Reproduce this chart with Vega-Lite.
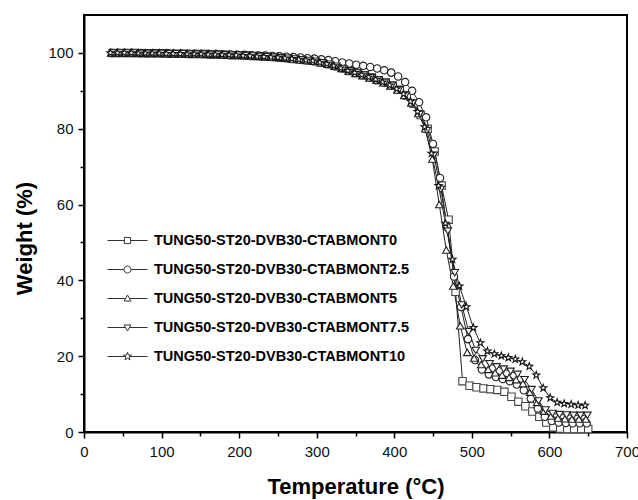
{
  "$schema": "https://vega.github.io/schema/vega-lite/v6.json",
  "width": 543,
  "height": 417,
  "autosize": {"type": "none"},
  "padding": {"left": 84, "top": 15, "right": 11, "bottom": 68},
  "background": "white",
  "config": {
    "view": {"stroke": "#000", "strokeWidth": 2},
    "font": "Liberation Sans",
    "axis": {"grid": false}
  },
  "data": {
    "values": [
      {"s":"0","t":38,"w":100.0},{"s":"0","t":47,"w":100.0},{"s":"0","t":56,"w":100.0},{"s":"0","t":65,"w":100.0},{"s":"0","t":74,"w":99.9},{"s":"0","t":83,"w":99.9},{"s":"0","t":92,"w":99.9},{"s":"0","t":101,"w":99.9},{"s":"0","t":110,"w":99.8},{"s":"0","t":119,"w":99.8},{"s":"0","t":128,"w":99.8},{"s":"0","t":137,"w":99.7},{"s":"0","t":146,"w":99.7},{"s":"0","t":155,"w":99.7},{"s":"0","t":164,"w":99.6},{"s":"0","t":173,"w":99.6},{"s":"0","t":182,"w":99.5},{"s":"0","t":191,"w":99.4},{"s":"0","t":200,"w":99.4},{"s":"0","t":209,"w":99.3},{"s":"0","t":218,"w":99.2},{"s":"0","t":227,"w":99.1},{"s":"0","t":236,"w":99.0},{"s":"0","t":245,"w":98.9},{"s":"0","t":254,"w":98.7},{"s":"0","t":263,"w":98.6},{"s":"0","t":272,"w":98.4},{"s":"0","t":281,"w":98.2},{"s":"0","t":290,"w":98.0},{"s":"0","t":299,"w":97.8},{"s":"0","t":308,"w":97.4},{"s":"0","t":317,"w":97.0},{"s":"0","t":326,"w":96.5},{"s":"0","t":335,"w":95.9},{"s":"0","t":344,"w":95.2},{"s":"0","t":353,"w":94.7},{"s":"0","t":362,"w":94.1},{"s":"0","t":371,"w":93.5},{"s":"0","t":380,"w":92.8},{"s":"0","t":389,"w":92.2},{"s":"0","t":398,"w":91.4},{"s":"0","t":407,"w":90.3},{"s":"0","t":416,"w":88.8},{"s":"0","t":425,"w":86.6},{"s":"0","t":434,"w":83.6},{"s":"0","t":443,"w":80.0},{"s":"0","t":452,"w":74.0},{"s":"0","t":461,"w":65.0},{"s":"0","t":470,"w":56.0},{"s":"0","t":479,"w":37.0},{"s":"0","t":488,"w":13.4},{"s":"0","t":497,"w":12.2},{"s":"0","t":506,"w":11.8},{"s":"0","t":515,"w":11.5},{"s":"0","t":524,"w":11.3},{"s":"0","t":533,"w":11.1},{"s":"0","t":542,"w":10.6},{"s":"0","t":551,"w":9.3},{"s":"0","t":560,"w":8.0},{"s":"0","t":569,"w":6.8},{"s":"0","t":578,"w":5.4},{"s":"0","t":587,"w":4.0},{"s":"0","t":596,"w":2.5},{"s":"0","t":605,"w":1.2},{"s":"0","t":614,"w":0.9},{"s":"0","t":623,"w":0.8},{"s":"0","t":632,"w":0.8},{"s":"0","t":641,"w":0.8},{"s":"0","t":650,"w":0.8},

      {"s":"2.5","t":36,"w":100.0},{"s":"2.5","t":45,"w":100.0},{"s":"2.5","t":54,"w":100.0},{"s":"2.5","t":63,"w":100.0},{"s":"2.5","t":72,"w":100.0},{"s":"2.5","t":81,"w":99.9},{"s":"2.5","t":90,"w":99.9},{"s":"2.5","t":99,"w":99.9},{"s":"2.5","t":108,"w":99.9},{"s":"2.5","t":117,"w":99.8},{"s":"2.5","t":126,"w":99.8},{"s":"2.5","t":135,"w":99.8},{"s":"2.5","t":144,"w":99.8},{"s":"2.5","t":153,"w":99.7},{"s":"2.5","t":162,"w":99.7},{"s":"2.5","t":171,"w":99.7},{"s":"2.5","t":180,"w":99.6},{"s":"2.5","t":189,"w":99.6},{"s":"2.5","t":198,"w":99.5},{"s":"2.5","t":207,"w":99.5},{"s":"2.5","t":216,"w":99.4},{"s":"2.5","t":225,"w":99.3},{"s":"2.5","t":234,"w":99.3},{"s":"2.5","t":243,"w":99.2},{"s":"2.5","t":252,"w":99.1},{"s":"2.5","t":261,"w":99.0},{"s":"2.5","t":270,"w":98.9},{"s":"2.5","t":279,"w":98.8},{"s":"2.5","t":288,"w":98.6},{"s":"2.5","t":297,"w":98.5},{"s":"2.5","t":306,"w":98.3},{"s":"2.5","t":315,"w":98.1},{"s":"2.5","t":324,"w":97.8},{"s":"2.5","t":333,"w":97.5},{"s":"2.5","t":342,"w":97.2},{"s":"2.5","t":351,"w":96.9},{"s":"2.5","t":360,"w":96.6},{"s":"2.5","t":369,"w":96.3},{"s":"2.5","t":378,"w":95.9},{"s":"2.5","t":387,"w":95.4},{"s":"2.5","t":396,"w":94.8},{"s":"2.5","t":405,"w":93.8},{"s":"2.5","t":414,"w":92.3},{"s":"2.5","t":423,"w":90.0},{"s":"2.5","t":432,"w":87.0},{"s":"2.5","t":441,"w":83.0},{"s":"2.5","t":450,"w":76.0},{"s":"2.5","t":459,"w":67.0},{"s":"2.5","t":468,"w":54.0},{"s":"2.5","t":477,"w":41.0},{"s":"2.5","t":486,"w":33.0},{"s":"2.5","t":495,"w":24.5},{"s":"2.5","t":504,"w":19.0},{"s":"2.5","t":513,"w":16.5},{"s":"2.5","t":522,"w":15.2},{"s":"2.5","t":531,"w":14.5},{"s":"2.5","t":540,"w":14.0},{"s":"2.5","t":549,"w":13.4},{"s":"2.5","t":558,"w":12.5},{"s":"2.5","t":567,"w":11.0},{"s":"2.5","t":576,"w":8.8},{"s":"2.5","t":585,"w":6.2},{"s":"2.5","t":594,"w":4.0},{"s":"2.5","t":603,"w":2.9},{"s":"2.5","t":612,"w":2.5},{"s":"2.5","t":621,"w":2.4},{"s":"2.5","t":630,"w":2.3},{"s":"2.5","t":639,"w":2.3},{"s":"2.5","t":648,"w":2.3},

      {"s":"5","t":35,"w":100.0},{"s":"5","t":44,"w":100.0},{"s":"5","t":53,"w":100.0},{"s":"5","t":62,"w":100.0},{"s":"5","t":71,"w":99.9},{"s":"5","t":80,"w":99.9},{"s":"5","t":89,"w":99.9},{"s":"5","t":98,"w":99.9},{"s":"5","t":107,"w":99.8},{"s":"5","t":116,"w":99.8},{"s":"5","t":125,"w":99.8},{"s":"5","t":134,"w":99.7},{"s":"5","t":143,"w":99.7},{"s":"5","t":152,"w":99.7},{"s":"5","t":161,"w":99.6},{"s":"5","t":170,"w":99.6},{"s":"5","t":179,"w":99.5},{"s":"5","t":188,"w":99.4},{"s":"5","t":197,"w":99.4},{"s":"5","t":206,"w":99.3},{"s":"5","t":215,"w":99.2},{"s":"5","t":224,"w":99.1},{"s":"5","t":233,"w":99.0},{"s":"5","t":242,"w":98.9},{"s":"5","t":251,"w":98.8},{"s":"5","t":260,"w":98.6},{"s":"5","t":269,"w":98.4},{"s":"5","t":278,"w":98.2},{"s":"5","t":287,"w":98.0},{"s":"5","t":296,"w":97.8},{"s":"5","t":305,"w":97.4},{"s":"5","t":314,"w":97.0},{"s":"5","t":323,"w":96.5},{"s":"5","t":332,"w":95.9},{"s":"5","t":341,"w":95.2},{"s":"5","t":350,"w":94.6},{"s":"5","t":359,"w":94.0},{"s":"5","t":368,"w":93.4},{"s":"5","t":377,"w":92.8},{"s":"5","t":386,"w":92.1},{"s":"5","t":395,"w":91.3},{"s":"5","t":404,"w":90.2},{"s":"5","t":413,"w":88.8},{"s":"5","t":422,"w":86.8},{"s":"5","t":431,"w":84.0},{"s":"5","t":440,"w":80.0},{"s":"5","t":449,"w":72.0},{"s":"5","t":458,"w":60.0},{"s":"5","t":467,"w":48.0},{"s":"5","t":476,"w":38.5},{"s":"5","t":485,"w":28.0},{"s":"5","t":494,"w":21.0},{"s":"5","t":503,"w":19.5},{"s":"5","t":512,"w":17.8},{"s":"5","t":521,"w":16.5},{"s":"5","t":530,"w":15.6},{"s":"5","t":539,"w":15.0},{"s":"5","t":548,"w":14.4},{"s":"5","t":557,"w":13.8},{"s":"5","t":566,"w":12.8},{"s":"5","t":575,"w":10.5},{"s":"5","t":584,"w":7.8},{"s":"5","t":593,"w":5.5},{"s":"5","t":602,"w":4.2},{"s":"5","t":611,"w":3.7},{"s":"5","t":620,"w":3.5},{"s":"5","t":629,"w":3.4},{"s":"5","t":638,"w":3.4},{"s":"5","t":647,"w":3.4},

      {"s":"7.5","t":37,"w":100.0},{"s":"7.5","t":46,"w":100.0},{"s":"7.5","t":55,"w":100.0},{"s":"7.5","t":64,"w":100.0},{"s":"7.5","t":73,"w":99.9},{"s":"7.5","t":82,"w":99.9},{"s":"7.5","t":91,"w":99.9},{"s":"7.5","t":100,"w":99.9},{"s":"7.5","t":109,"w":99.8},{"s":"7.5","t":118,"w":99.8},{"s":"7.5","t":127,"w":99.8},{"s":"7.5","t":136,"w":99.7},{"s":"7.5","t":145,"w":99.7},{"s":"7.5","t":154,"w":99.7},{"s":"7.5","t":163,"w":99.6},{"s":"7.5","t":172,"w":99.6},{"s":"7.5","t":181,"w":99.5},{"s":"7.5","t":190,"w":99.4},{"s":"7.5","t":199,"w":99.4},{"s":"7.5","t":208,"w":99.3},{"s":"7.5","t":217,"w":99.2},{"s":"7.5","t":226,"w":99.1},{"s":"7.5","t":235,"w":99.0},{"s":"7.5","t":244,"w":98.9},{"s":"7.5","t":253,"w":98.7},{"s":"7.5","t":262,"w":98.6},{"s":"7.5","t":271,"w":98.4},{"s":"7.5","t":280,"w":98.2},{"s":"7.5","t":289,"w":98.0},{"s":"7.5","t":298,"w":97.8},{"s":"7.5","t":307,"w":97.4},{"s":"7.5","t":316,"w":97.0},{"s":"7.5","t":325,"w":96.5},{"s":"7.5","t":334,"w":95.9},{"s":"7.5","t":343,"w":95.2},{"s":"7.5","t":352,"w":94.7},{"s":"7.5","t":361,"w":94.1},{"s":"7.5","t":370,"w":93.5},{"s":"7.5","t":379,"w":92.9},{"s":"7.5","t":388,"w":92.2},{"s":"7.5","t":397,"w":91.4},{"s":"7.5","t":406,"w":90.3},{"s":"7.5","t":415,"w":88.9},{"s":"7.5","t":424,"w":86.8},{"s":"7.5","t":433,"w":83.8},{"s":"7.5","t":442,"w":79.5},{"s":"7.5","t":451,"w":73.0},{"s":"7.5","t":460,"w":64.0},{"s":"7.5","t":469,"w":53.0},{"s":"7.5","t":478,"w":42.0},{"s":"7.5","t":487,"w":33.5},{"s":"7.5","t":496,"w":26.5},{"s":"7.5","t":505,"w":21.5},{"s":"7.5","t":514,"w":19.3},{"s":"7.5","t":523,"w":18.0},{"s":"7.5","t":532,"w":17.2},{"s":"7.5","t":541,"w":16.6},{"s":"7.5","t":550,"w":16.0},{"s":"7.5","t":559,"w":15.2},{"s":"7.5","t":568,"w":13.8},{"s":"7.5","t":577,"w":11.2},{"s":"7.5","t":586,"w":8.2},{"s":"7.5","t":595,"w":5.8},{"s":"7.5","t":604,"w":4.9},{"s":"7.5","t":613,"w":4.6},{"s":"7.5","t":622,"w":4.5},{"s":"7.5","t":631,"w":4.4},{"s":"7.5","t":640,"w":4.4},{"s":"7.5","t":649,"w":4.4},

      {"s":"10","t":34,"w":100.0},{"s":"10","t":43,"w":100.0},{"s":"10","t":52,"w":100.0},{"s":"10","t":61,"w":100.0},{"s":"10","t":70,"w":99.9},{"s":"10","t":79,"w":99.9},{"s":"10","t":88,"w":99.9},{"s":"10","t":97,"w":99.9},{"s":"10","t":106,"w":99.8},{"s":"10","t":115,"w":99.8},{"s":"10","t":124,"w":99.8},{"s":"10","t":133,"w":99.7},{"s":"10","t":142,"w":99.7},{"s":"10","t":151,"w":99.7},{"s":"10","t":160,"w":99.6},{"s":"10","t":169,"w":99.6},{"s":"10","t":178,"w":99.5},{"s":"10","t":187,"w":99.5},{"s":"10","t":196,"w":99.4},{"s":"10","t":205,"w":99.3},{"s":"10","t":214,"w":99.2},{"s":"10","t":223,"w":99.1},{"s":"10","t":232,"w":99.0},{"s":"10","t":241,"w":98.9},{"s":"10","t":250,"w":98.8},{"s":"10","t":259,"w":98.6},{"s":"10","t":268,"w":98.5},{"s":"10","t":277,"w":98.3},{"s":"10","t":286,"w":98.1},{"s":"10","t":295,"w":97.9},{"s":"10","t":304,"w":97.5},{"s":"10","t":313,"w":97.1},{"s":"10","t":322,"w":96.6},{"s":"10","t":331,"w":96.0},{"s":"10","t":340,"w":95.3},{"s":"10","t":349,"w":94.8},{"s":"10","t":358,"w":94.2},{"s":"10","t":367,"w":93.6},{"s":"10","t":376,"w":93.0},{"s":"10","t":385,"w":92.3},{"s":"10","t":394,"w":91.5},{"s":"10","t":403,"w":90.5},{"s":"10","t":412,"w":89.2},{"s":"10","t":421,"w":87.2},{"s":"10","t":430,"w":84.5},{"s":"10","t":439,"w":80.5},{"s":"10","t":448,"w":73.5},{"s":"10","t":457,"w":65.0},{"s":"10","t":466,"w":55.0},{"s":"10","t":475,"w":45.5},{"s":"10","t":484,"w":38.5},{"s":"10","t":493,"w":33.0},{"s":"10","t":502,"w":27.5},{"s":"10","t":511,"w":23.5},{"s":"10","t":520,"w":21.3},{"s":"10","t":529,"w":20.6},{"s":"10","t":538,"w":20.1},{"s":"10","t":547,"w":19.6},{"s":"10","t":556,"w":19.2},{"s":"10","t":565,"w":18.5},{"s":"10","t":574,"w":17.3},{"s":"10","t":583,"w":15.0},{"s":"10","t":592,"w":11.6},{"s":"10","t":601,"w":9.0},{"s":"10","t":610,"w":7.8},{"s":"10","t":619,"w":7.5},{"s":"10","t":628,"w":7.3},{"s":"10","t":637,"w":7.1},{"s":"10","t":646,"w":7.0}
    ]
  },
  "layer": [
    {
      "mark": {"type": "line", "stroke": "#222", "strokeWidth": 1},
      "encoding": {
        "x": {
          "field": "t", "type": "quantitative",
          "scale": {"domain": [0, 700], "nice": false, "zero": false},
          "axis": {
            "values": [0, 100, 200, 300, 400, 500, 600, 700],
            "tickSize": 6, "tickWidth": 1.5, "tickColor": "#000",
            "domainColor": "#000", "domainWidth": 2,
            "labelFont": "Liberation Sans", "labelFontSize": 15, "labelColor": "#111",
            "labelPadding": 6, "labelFlush": false, "labelOverlap": false,
            "title": "Temperature (°C)", "titleFont": "Liberation Sans",
            "titleFontSize": 22, "titleFontWeight": "bold", "titleColor": "#000",
            "titleBaseline": "alphabetic", "titleY": 61
          }
        },
        "y": {
          "field": "w", "type": "quantitative",
          "scale": {"domain": [0, 110], "nice": false},
          "axis": {
            "values": [0, 20, 40, 60, 80, 100],
            "tickSize": 6, "tickWidth": 1.5, "tickColor": "#000",
            "domainColor": "#000", "domainWidth": 2,
            "labelFont": "Liberation Sans", "labelFontSize": 15, "labelColor": "#111",
            "labelPadding": 5, "labelFlush": false, "labelOverlap": false,
            "title": "Weight (%)", "titleFont": "Liberation Sans",
            "titleFontSize": 22, "titleFontWeight": "bold", "titleColor": "#000",
            "titleBaseline": "alphabetic", "titleX": -53, "titleY": 223
          }
        },
        "detail": {"field": "s", "type": "nominal"},
        "order": {"field": "t", "type": "quantitative"}
      }
    },
    {
      "mark": {"type": "point", "filled": true, "fill": "white", "strokeWidth": 1.1, "size": 55, "opacity": 1},
      "encoding": {
        "x": {"field": "t", "type": "quantitative", "axis": null},
        "y": {"field": "w", "type": "quantitative", "axis": null},
        "shape": {
          "field": "s", "type": "nominal", "legend": null,
          "scale": {
            "domain": ["0", "2.5", "5", "7.5", "10"],
            "range": ["square", "circle", "triangle-up", "triangle-down",
              "M0,-1L0.235,-0.324L0.951,-0.309L0.38,0.124L0.588,0.809L0,0.4L-0.588,0.809L-0.38,0.124L-0.951,-0.309L-0.235,-0.324Z"]
          }
        },
        "stroke": {
          "field": "s", "type": "nominal", "legend": null,
          "scale": {"domain": ["0", "2.5", "5", "7.5", "10"], "range": ["#444", "#222", "#222", "#222", "#111"]}
        }
      }
    },
    {
      "mark": {"type": "point", "filled": false, "stroke": "#333", "strokeWidth": 1, "opacity": 0},
      "encoding": {
        "x": {
          "field": "t", "type": "quantitative",
          "axis": {
            "orient": "bottom", "values": [50, 150, 250, 350, 450, 550, 650],
            "labels": false, "domain": false, "title": null,
            "tickSize": 4, "tickWidth": 1.5, "tickColor": "#000"
          }
        },
        "y": {
          "field": "w", "type": "quantitative",
          "axis": {
            "orient": "left", "values": [10, 30, 50, 70, 90],
            "labels": false, "domain": false, "title": null,
            "tickSize": 4, "tickWidth": 1.5, "tickColor": "#000"
          }
        },
        "shape": {
          "field": "s", "type": "nominal",
          "scale": {
            "domain": ["0", "2.5", "5", "7.5", "10"],
            "range": [
              "M-1.43,0L-0.22,0M0.22,0L1.43,0M-0.22,-0.22L0.22,-0.22L0.22,0.22L-0.22,0.22Z",
              "M-1.43,0L-0.25,0M0.25,0L1.43,0M-0.25,0A0.25,0.25,0,1,1,0.25,0A0.25,0.25,0,1,1,-0.25,0Z",
              "M-1.43,0L-0.15,0M0.15,0L1.43,0M0,-0.25L0.25,0.18L-0.25,0.18Z",
              "M-1.43,0L-0.15,0M0.15,0L1.43,0M0,0.25L0.25,-0.18L-0.25,-0.18Z",
              "M-1.43,0L-0.13,0M0.13,0L1.43,0M0,-0.3L0.07,-0.1L0.285,-0.093L0.114,0.037L0.176,0.243L0,0.12L-0.176,0.243L-0.114,0.037L-0.285,-0.093L-0.07,-0.1Z"
            ]
          },
          "legend": {
            "orient": "none", "legendX": 29, "legendY": 211,
            "title": null, "padding": 0, "rowPadding": 8,
            "symbolSize": 784, "symbolStrokeWidth": 1,
            "symbolStrokeColor": "#333", "symbolFillColor": "white", "symbolOpacity": 1,
            "labelFont": "Liberation Sans", "labelFontSize": 14.5, "labelFontWeight": "bold",
            "labelColor": "#000", "labelLimit": 0, "labelOffset": 12,
            "labelExpr": "'TUNG50-ST20-DVB30-CTABMONT' + datum.label"
          }
        }
      }
    }
  ],
  "resolve": {
    "scale": {"shape": "independent"},
    "axis": {"x": "independent", "y": "independent"}
  }
}
